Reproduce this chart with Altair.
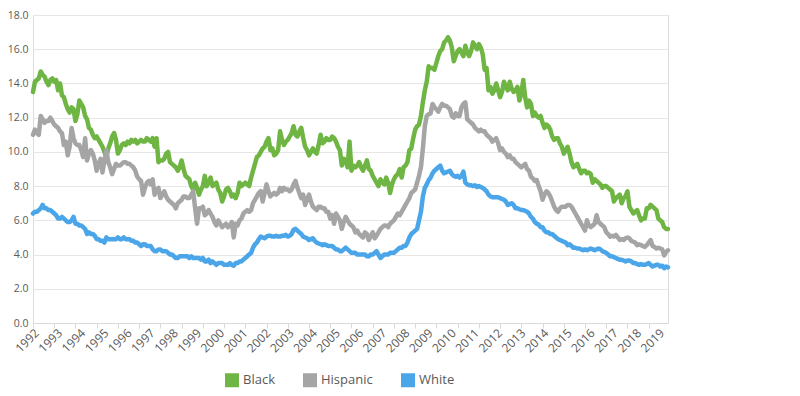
import altair as alt
import pandas as pd

# Monthly unemployment rate (%), Jan 1992 - Jun 2019
series_names = ["Black", "Hispanic", "White"]
series_colors = ["#6FB543", "#A5A5A5", "#4AA6E8"]
first_year = 1992
last_year = 2019

black = [
    13.5, 14.1, 14.2, 14.3, 14.7, 14.5, 14.4, 14.1, 13.9, 14.2, 14.3, 14.1,  # 1992
    14.2, 13.6, 14.0, 13.3, 13.2, 12.8, 12.5, 12.3, 12.6, 12.5, 11.8, 12.2,  # 1993
    13.0, 12.8, 12.6, 12.1, 11.9, 11.4, 11.3, 11.0, 10.8, 10.9, 10.7, 10.5,  # 1994
    10.3, 10.0, 9.7, 10.2, 10.5, 10.9, 11.1, 10.7, 9.9, 10.1, 10.4, 10.5,  # 1995
    10.4, 10.6, 10.5, 10.7, 10.6, 10.7, 10.5, 10.6, 10.7, 10.6, 10.6, 10.8,  # 1996
    10.7, 10.6, 10.8, 10.3, 10.8, 9.4, 9.5, 9.5, 9.6, 9.9, 10.0, 9.4,  # 1997
    9.3, 9.2, 9.1, 8.9, 9.1, 9.5, 9.0, 8.6, 8.5, 8.4, 8.0, 7.8,  # 1998
    8.2, 7.9, 7.5, 7.8, 8.0, 8.6, 8.0, 8.2, 8.5, 8.0, 8.1, 8.2,  # 1999
    7.8, 7.6, 7.1, 7.4, 7.8, 7.9, 7.7, 7.4, 7.5, 7.3, 7.6, 8.2,  # 2000
    8.0, 8.1, 8.2, 8.1, 8.0, 8.5, 8.9, 9.3, 9.7, 9.8, 10.0, 10.2,  # 2001
    10.3, 10.6, 10.8, 10.1, 10.2, 9.8, 9.9, 10.1, 11.2, 10.7, 10.4, 10.6,  # 2002
    10.7, 10.9, 11.1, 11.5, 11.0, 10.9, 11.2, 11.4, 10.8, 10.3, 10.1, 9.8,  # 2003
    10.0, 10.2, 10.0, 9.9, 10.4, 11.0, 10.5, 10.6, 10.8, 10.7, 10.7, 10.9,  # 2004
    10.8, 10.6, 10.3, 10.1, 9.2, 9.6, 9.5, 9.1, 10.6, 8.9, 9.2, 9.1,  # 2005
    9.2, 9.4, 9.1, 8.9, 9.2, 9.5, 9.0, 8.9, 8.6, 8.4, 8.2, 8.0,  # 2006
    8.4, 8.2, 8.1, 8.5, 8.2, 7.6, 8.1, 8.4, 8.6, 8.7, 9.0, 8.5,  # 2007
    9.1, 9.2, 9.4, 10.1, 10.2, 10.8, 11.3, 11.5, 11.6, 12.1, 12.9, 13.6,  # 2008
    14.1, 15.0, 14.9, 14.9, 14.8, 15.2, 15.6, 15.9, 16.0, 16.4, 16.5, 16.7,  # 2009
    16.5, 16.1, 15.3, 15.6, 15.9, 16.0, 15.8, 15.6, 16.2, 15.8, 15.6, 15.9,  # 2010
    16.4, 16.2, 16.0, 16.3, 16.1, 15.7, 14.8, 14.9, 13.6, 13.8, 13.4, 13.6,  # 2011
    14.0, 13.6, 13.2, 13.5, 14.1, 13.8, 13.6, 14.1, 13.7, 13.5, 13.6, 13.8,  # 2012
    13.0, 13.4, 14.2, 13.2, 12.6, 13.0, 12.8, 12.1, 12.3, 12.1, 12.0, 12.1,  # 2013
    11.7, 11.4, 11.6, 11.5, 11.3, 10.9, 10.7, 10.8, 10.8, 10.5, 10.3, 9.9,  # 2014
    10.1, 10.3, 9.9, 9.4, 9.1, 9.2, 9.3, 9.0, 8.75, 8.9, 8.9, 8.75,  # 2015
    8.8, 8.7, 8.2, 8.4, 8.3, 8.2, 8.1, 7.9, 8.0, 8.0, 7.9, 7.8,  # 2016
    7.7, 7.1, 7.3, 7.4, 7.5, 7.0, 7.3, 7.4, 7.7, 6.8, 6.6, 6.4,  # 2017
    6.5, 6.6, 6.3, 6.0, 6.1, 6.1, 6.7, 6.7, 6.9, 6.8, 6.7, 6.6,  # 2018
    6.1, 6.0, 5.9, 5.6, 5.5, 5.5,  # 2019
]

hispanic = [
    11.0, 11.3, 11.1, 11.0, 12.1, 11.9, 11.7, 11.8, 11.8, 12.0, 11.8, 11.6,  # 1992
    11.5, 11.4, 11.2, 11.1, 10.4, 10.6, 9.8, 10.3, 11.4, 10.8, 10.5, 10.4,  # 1993
    10.4, 10.1, 9.7, 10.8, 9.5, 9.9, 10.1, 9.9, 9.5, 8.9, 9.3, 9.6,  # 1994
    8.8, 9.5, 10.1, 9.4, 9.1, 8.7, 9.0, 9.3, 9.2, 9.2, 9.3, 9.4,  # 1995
    9.4, 9.3, 9.3, 9.2, 9.1, 8.9, 8.55, 8.4, 8.3, 7.5, 7.9, 8.2,  # 1996
    8.3, 8.1, 8.4, 7.5, 7.8, 7.9, 7.3, 7.5, 7.7, 7.4, 7.2, 7.1,  # 1997
    7.0, 6.9, 6.7, 7.0, 7.1, 7.2, 7.4, 7.4, 7.3, 7.3, 7.5, 7.7,  # 1998
    6.7, 5.8, 6.7, 6.7, 6.8, 6.3, 6.4, 6.6, 6.4, 6.2, 5.9, 5.7,  # 1999
    6.0, 5.8, 5.6, 5.7, 5.8, 5.6, 5.7, 5.9, 5.0, 5.8, 5.7, 6.0,  # 2000
    6.1, 6.4, 6.5, 6.6, 6.5, 6.6, 7.0, 7.2, 7.4, 7.6, 7.7, 7.1,  # 2001
    7.6, 8.1, 7.7, 7.4, 7.5, 7.6, 7.5, 7.6, 7.9, 7.7, 7.9, 7.8,  # 2002
    7.8, 7.7, 7.8, 8.1, 8.3, 7.9, 7.6, 7.3, 7.5, 6.9, 7.2, 7.5,  # 2003
    7.1, 6.8, 6.7, 6.6, 6.8, 6.8, 6.7, 6.7, 6.5, 6.5, 6.1, 6.3,  # 2004
    5.8, 6.4, 6.2, 6.0, 5.5, 5.9, 6.2, 6.0, 5.8, 5.7, 5.6, 5.3,  # 2005
    5.4, 5.2, 5.1, 5.0, 5.3, 5.2, 4.85, 5.1, 5.3, 4.95, 5.1, 5.3,  # 2006
    5.5, 5.6, 5.7, 5.7, 5.6, 5.8, 5.9, 6.0, 6.2, 6.4, 6.3, 6.5,  # 2007
    6.7, 6.9, 7.1, 7.3, 7.6, 7.7, 7.8, 8.2, 8.6, 9.1, 10.2, 11.5,  # 2008
    12.1, 12.2, 12.25, 12.8, 12.6, 12.5, 12.35, 12.6, 12.8, 12.7, 12.7, 12.6,  # 2009
    12.5, 12.1, 12.0, 12.25, 12.1, 12.1, 12.6, 12.8, 12.9, 11.9, 11.8, 11.7,  # 2010
    11.6, 11.4, 11.3, 11.2, 11.3, 11.2, 11.2, 11.0, 10.9, 10.8, 10.6, 10.7,  # 2011
    10.8, 10.5, 10.1, 10.2, 10.0, 9.9, 9.7, 9.8, 9.6, 9.6, 9.4, 9.3,  # 2012
    9.2, 9.1, 9.2, 9.3, 9.0, 8.9, 8.55, 8.45, 8.3, 8.35, 8.0, 7.7,  # 2013
    7.2, 7.5, 7.7, 7.6, 7.4, 7.1, 6.8, 6.6, 6.5, 6.7, 6.8, 6.8,  # 2014
    6.8, 6.9, 6.9, 6.8, 6.6, 6.4, 6.2, 6.0, 5.8, 5.6, 5.4, 6.0,  # 2015
    5.7, 5.6, 5.7, 5.8, 6.3, 5.9, 5.8, 5.7, 5.6, 5.3, 5.2, 5.05,  # 2016
    5.1, 5.05, 5.15, 5.0, 4.85, 4.9, 4.85, 4.95, 5.0, 4.95, 4.8, 4.75,  # 2017
    4.7, 4.55, 4.6, 4.55, 4.5, 4.45, 4.55, 4.7, 4.85, 4.5, 4.45, 4.35,  # 2018
    4.4, 4.35, 4.3, 3.95, 4.15, 4.25,  # 2019
]

white = [
    6.4, 6.5, 6.5, 6.6, 6.7, 6.9, 6.7, 6.7, 6.6, 6.6, 6.5, 6.4,  # 1992
    6.3, 6.1, 6.1, 6.2, 6.1, 6.0, 5.9, 5.9, 6.0, 6.2, 5.8, 5.8,  # 1993
    5.7, 5.7, 5.6, 5.5, 5.2, 5.3, 5.2, 5.2, 5.1, 4.9, 4.9, 4.8,  # 1994
    4.8, 4.7, 5.0, 4.9, 4.9, 4.9, 4.9, 4.9, 5.0, 4.9, 4.9, 5.0,  # 1995
    4.9, 4.9, 4.9, 4.8, 4.8, 4.7, 4.7, 4.6, 4.5, 4.6, 4.6, 4.5,  # 1996
    4.5, 4.5, 4.3, 4.2, 4.2, 4.3, 4.3, 4.2, 4.2, 4.2, 4.1, 4.0,  # 1997
    4.0, 3.9, 3.8, 3.8, 3.9, 3.9, 3.9, 3.9, 3.9, 3.8, 3.9, 3.8,  # 1998
    3.8, 3.8, 3.8, 3.7, 3.8, 3.6, 3.6, 3.7, 3.5, 3.6, 3.5, 3.4,  # 1999
    3.5, 3.5, 3.5, 3.4, 3.4, 3.4, 3.5, 3.4, 3.35, 3.5, 3.5, 3.6,  # 2000
    3.6, 3.7, 3.8, 3.9, 4.0, 4.1, 4.4, 4.6, 4.7, 4.9, 5.05, 5.0,  # 2001
    4.95, 5.05, 5.1, 5.1, 5.05, 5.05, 5.1, 5.05, 5.05, 5.1, 5.1, 5.15,  # 2002
    5.05, 5.1, 5.2, 5.45, 5.5, 5.4, 5.3, 5.2, 5.05, 5.0, 4.95, 4.85,  # 2003
    4.9, 4.95, 4.8, 4.7, 4.65, 4.6, 4.55, 4.6, 4.55, 4.5, 4.5, 4.5,  # 2004
    4.4, 4.3, 4.3, 4.2, 4.2, 4.3, 4.4, 4.3, 4.2, 4.1, 4.1, 4.1,  # 2005
    4.0, 4.0, 4.0, 4.0, 4.0, 3.9, 3.9, 4.0, 4.0, 4.1, 4.2, 4.0,  # 2006
    3.8, 3.9, 4.0, 4.0, 4.0, 4.1, 4.1, 4.1, 4.2, 4.3, 4.4, 4.4,  # 2007
    4.5, 4.5, 4.7, 5.0, 5.2, 5.3, 5.4, 5.5, 6.0, 6.5, 7.4, 7.9,  # 2008
    8.1, 8.35, 8.5, 8.75, 8.9, 9.0, 9.1, 9.2, 8.9, 8.75, 8.8, 8.85,  # 2009
    8.9, 8.7, 8.6, 8.55, 8.6, 8.5, 8.6, 8.85, 8.2, 8.1, 8.05, 8.05,  # 2010
    8.0, 8.05, 7.95, 8.0, 7.95, 7.9, 7.8, 7.7, 7.5, 7.4, 7.35, 7.35,  # 2011
    7.35, 7.35, 7.3, 7.25, 7.2, 7.1, 6.9, 6.95, 7.0, 6.9, 6.7, 6.7,  # 2012
    6.65, 6.6, 6.6, 6.55, 6.5, 6.4, 6.2, 6.1, 5.9, 5.8, 5.75, 5.6,  # 2013
    5.6, 5.4, 5.3, 5.3, 5.2, 5.2, 5.1, 5.0, 4.9, 4.85, 4.8, 4.75,  # 2014
    4.7, 4.55, 4.6, 4.5, 4.4, 4.4, 4.35, 4.35, 4.3, 4.25, 4.3, 4.25,  # 2015
    4.3, 4.35, 4.3, 4.25, 4.3, 4.35, 4.3, 4.2, 4.15, 4.1, 4.0, 3.9,  # 2016
    3.9, 3.85, 3.8, 3.75, 3.7, 3.7, 3.65, 3.6, 3.65, 3.65, 3.6, 3.5,  # 2017
    3.5, 3.45, 3.4, 3.45, 3.4, 3.4, 3.45, 3.5, 3.4, 3.3, 3.35, 3.4,  # 2018
    3.4, 3.3, 3.35, 3.2, 3.3, 3.25,  # 2019
]

n = len(black)
rows = []
for name, vals in zip(series_names, [black, hispanic, white]):
    for i, v in enumerate(vals):
        rows.append({"i": i, "series": name, "value": v})
df = pd.DataFrame(rows)

label_values = [12 * k for k in range(last_year - first_year + 1)]
tick_values = list(range(0, n, 11))

FONT = "Open Sans"
TXT = "#595959"

x_scale = alt.Scale(domain=[0, n - 1], nice=False, zero=False)

lines = alt.Chart(df).mark_line(strokeWidth=4.5, strokeJoin="round", strokeCap="round").encode(
    x=alt.X(
        "i:Q",
        scale=x_scale,
        title=None,
        axis=alt.Axis(
            orient="bottom",
            values=label_values,
            labelExpr=f"{first_year} + round(datum.value / 12)",
            labelAngle=-45,
            labelFontSize=12,
            labelColor=TXT,
            labelFont=FONT,
            labelPadding=4,
            ticks=False,
            grid=False,
            domain=True,
            domainColor="#d9d9d9",
            labelOverlap=False,
            labelFlush=False,
        ),
    ),
    y=alt.Y(
        "value:Q",
        scale=alt.Scale(domain=[0, 18], nice=False),
        title=None,
        axis=alt.Axis(
            values=[0, 2, 4, 6, 8, 10, 12, 14, 16, 18],
            format=".1f",
            labelFontSize=10.5,
            labelColor=TXT,
            labelFont=FONT,
            labelPadding=5,
            ticks=False,
            domain=False,
            grid=True,
            gridColor="#e6e6e6",
        ),
    ),
    color=alt.Color(
        "series:N",
        scale=alt.Scale(domain=series_names, range=series_colors),
        legend=alt.Legend(
            title=None,
            orient="none",
            direction="horizontal",
            legendX=192,
            legendY=358,
            symbolType="square",
            symbolSize=49,
            symbolStrokeWidth=7,
            symbolOpacity=1,
            labelFontSize=13,
            labelFont=FONT,
            labelColor=TXT,
            labelOffset=4,
            columnPadding=17,
        ),
    ),
)

tick_layer = alt.Chart(df[df.series == "White"]).mark_point(opacity=0).encode(
    x=alt.X(
        "i:Q",
        scale=x_scale,
        title=None,
        axis=alt.Axis(
            orient="bottom",
            values=tick_values,
            labels=False,
            ticks=True,
            tickSize=5,
            tickColor="#d9d9d9",
            grid=False,
            domain=False,
        ),
    ),
)

chart = (
    alt.layer(lines, tick_layer)
    .resolve_axis(x="independent")
    .properties(
        width=635,
        height=308,
        autosize="none",
        padding={"left": 25, "top": 7, "right": 120, "bottom": 65},
    )
    .configure_view(stroke=None)
    .configure(font=FONT)
)

chart.save("out.html", embed_options={"renderer": "svg", "actions": False})
